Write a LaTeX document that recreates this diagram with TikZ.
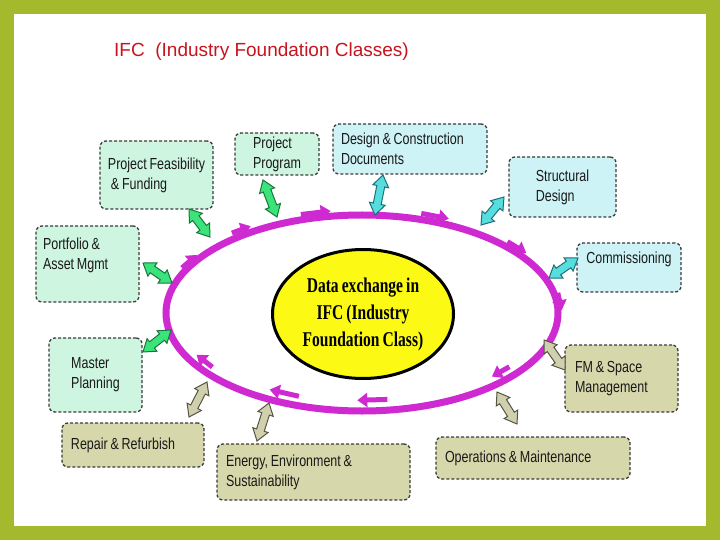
\documentclass[tikz,border=0pt]{standalone}
\usepackage{fontspec}
\usetikzlibrary{shapes.geometric,shapes.arrows,arrows.meta,calc}
\newfontfamily\boxfont[FakeStretch=0.78,WordSpace=0.8]{Liberation Sans}
\newfontfamily\titlefont{Liberation Sans}
\newfontfamily\corefont[FakeStretch=0.74,WordSpace=0.8]{Liberation Serif}
\definecolor{framegreen}{RGB}{165,185,44}
\definecolor{titlered}{RGB}{200,20,30}
\definecolor{ringmag}{RGB}{207,42,210}
\definecolor{coreyellow}{RGB}{252,250,20}
\definecolor{mintfill}{RGB}{206,245,224}
\definecolor{cyanfill}{RGB}{206,243,246}
\definecolor{khakifill}{RGB}{214,215,170}
\definecolor{dashgray}{RGB}{60,60,60}
\definecolor{textdark}{RGB}{25,25,25}
\definecolor{garrfill}{RGB}{60,226,122}
\definecolor{garrdraw}{RGB}{20,120,60}
\definecolor{carrfill}{RGB}{86,222,222}
\definecolor{carrdraw}{RGB}{30,110,120}
\definecolor{karrfill}{RGB}{208,208,175}
\definecolor{karrdraw}{RGB}{85,85,65}
\newcommand\linkarrow[4]{%
  \path let \p1=($(#4)-(#3)$) in
    node[#1, rotate={atan2(\y1,\x1)}, minimum height={veclen(\x1,\y1)}] (#2) at ($(#3)!.5!(#4)$) {};}
\begin{document}
\begin{tikzpicture}[x=1bp,y=-1bp,
  box/.style={draw=dashgray, line width=1.3bp, dash pattern=on 3bp off 2bp,
    rounded corners=6bp, inner sep=0bp, align=flush left, text=textdark,
    font={\boxfont\fontsize{16bp}{20bp}\selectfont}},
  gbox/.style={box, fill=mintfill},
  cbox/.style={box, fill=cyanfill},
  kbox/.style={box, fill=khakifill},
  dbl/.style={double arrow, double arrow head extend=4bp, double arrow head indent=0bp,
    double arrow tip angle=70, inner xsep=0bp, inner ysep=3.5bp, outer sep=0bp, line width=1bp},
  garr/.style={dbl, fill=garrfill, draw=garrdraw},
  carr/.style={dbl, fill=carrfill, draw=carrdraw},
  karr/.style={dbl, fill=karrfill, draw=karrdraw},
  flow/.style={draw=ringmag, line width=5bp, -{Triangle[length=10bp,width=14bp]}}]
\useasboundingbox (0,0) rectangle (720,540);
\fill[framegreen] (0,0) rectangle (720,540);
\fill[white] (14,14) rectangle (706,526);
% title
\node[anchor=base west, inner sep=0bp, text=titlered,
  font={\titlefont\fontsize{19bp}{22bp}\selectfont}] (title) at (114,57) {IFC\ \ (Industry Foundation Classes)};
% ring and core
\node[ellipse, draw=ringmag, line width=7bp, minimum width=392bp, minimum height=196bp, inner sep=0bp] (ring) at (362,313) {};
\node[ellipse, draw=black, fill=coreyellow, line width=3bp, minimum width=181bp, minimum height=129bp,
  inner sep=0bp, align=center, text=black,
  font={\corefont\bfseries\fontsize{21bp}{27bp}\selectfont}] (core) at (363,314)
  {Data exchange in\\IFC (Industry\\Foundation Class)};
% flow arrows along the ring (clockwise)
\foreach \t/\o/\l in {149.6/4/20, 126.7/6/20, 103.3/5/30, 68.8/6/28, 39.6/5/22, 6.5/3/18,
                      -41.8/-10/20, -86.8/-11/30, -114.7/-10/30, -147.4/-9/20}{
  \pgfmathsetmacro\cx{362+(196+\o)*cos(\t)}
  \pgfmathsetmacro\cy{313-(98+\o)*sin(\t)}
  \pgfmathsetmacro\ux{2*sin(\t)}
  \pgfmathsetmacro\uy{cos(\t)}
  \pgfmathsetmacro\nn{sqrt(\ux*\ux+\uy*\uy)}
  \draw[flow] ({\cx-\l/2*\ux/\nn},{\cy-\l/2*\uy/\nn}) -- ({\cx+\l/2*\ux/\nn},{\cy+\l/2*\uy/\nn});
}
% boxes
\node[gbox, minimum width=113bp, minimum height=68bp] (feas) at (156.5,175) {Project Feasibility\\\hspace{3bp}\& Funding};
\node[gbox, minimum width=84bp, minimum height=42bp] (prog) at (277,154) {Project\\Program};
\node[cbox, minimum width=154bp, minimum height=50bp, text width=138bp] (dc) at (410,149) {Design \& Construction\\Documents};
\node[cbox, minimum width=107bp, minimum height=60bp] (struct) at (562.5,187) {Structural\\Design};
\node[cbox, minimum width=104bp, minimum height=49bp] (comm) at (629,267.5) {Commissioning\\\mbox{}};
\node[gbox, minimum width=103bp, minimum height=76bp, text width=89bp] (port) at (87.5,264) {Portfolio \&\\Asset Mgmt\\\mbox{}};
\node[gbox, minimum width=93bp, minimum height=74bp] (master) at (95.5,375) {Master\\Planning};
\node[kbox, minimum width=142bp, minimum height=44bp, text width=124bp] (repair) at (133,445) {Repair \& Refurbish};
\node[kbox, minimum width=193bp, minimum height=56bp, text width=175bp] (energy) at (313.5,472) {Energy, Environment \&\\Sustainability};
\node[kbox, minimum width=194bp, minimum height=42bp, text width=176bp] (ops) at (533,458) {Operations \& Maintenance};
\node[kbox, minimum width=113bp, minimum height=67bp, text width=93bp] (fm) at (621.5,378.5) {FM \& Space\\Management};
% arrow end points
\coordinate (feasA) at (189,209);   \coordinate (feasB) at (210,237);
\coordinate (progA) at (263,180);   \coordinate (progB) at (277,217);
\coordinate (portA) at (143,263);   \coordinate (portB) at (172,283);
\coordinate (mastA) at (143,352);   \coordinate (mastB) at (171,330);
\coordinate (dcA) at (383,175);     \coordinate (dcB) at (375,215);
\coordinate (strA) at (504,197);    \coordinate (strB) at (481,225);
\coordinate (comA) at (578,258);    \coordinate (comB) at (549,278);
\coordinate (repA) at (189,417);    \coordinate (repB) at (207,382);
\coordinate (eneA) at (257,441);    \coordinate (eneB) at (269,403);
\coordinate (fmA) at (565,370);     \coordinate (fmB) at (544,340);
\coordinate (opsA) at (517,424);    \coordinate (opsB) at (497,392);
% double block arrows
\linkarrow{garr}{a1}{feasA}{feasB}
\linkarrow{garr}{a2}{progA}{progB}
\linkarrow{garr}{a3}{portA}{portB}
\linkarrow{garr}{a4}{mastA}{mastB}
\linkarrow{carr}{a5}{dcA}{dcB}
\linkarrow{carr}{a6}{strA}{strB}
\linkarrow{carr}{a7}{comA}{comB}
\linkarrow{karr}{a8}{repA}{repB}
\linkarrow{karr}{a9}{eneA}{eneB}
\linkarrow{karr}{a10}{fmA}{fmB}
\linkarrow{karr}{a11}{opsA}{opsB}
\end{tikzpicture}
\end{document}
